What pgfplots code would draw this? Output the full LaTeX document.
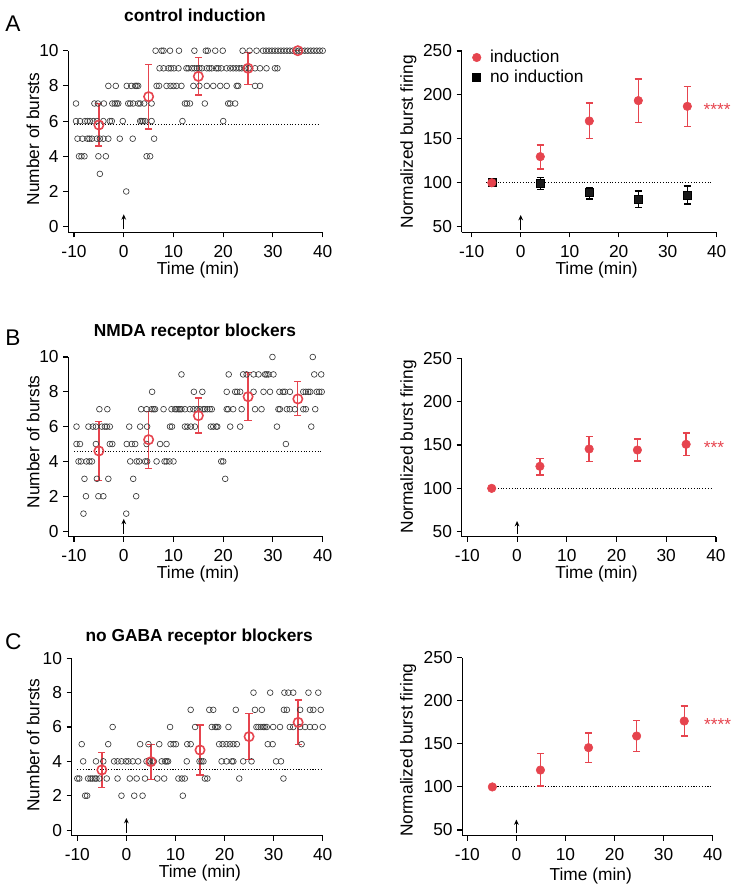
\documentclass[border=0pt]{standalone}
\usepackage{fontspec}
\setmainfont{Liberation Sans}
\usepackage{pgfplots}
\pgfplotsset{compat=1.18}
\usetikzlibrary{arrows.meta}
\definecolor{myred}{RGB}{230,68,78}
\definecolor{mygray}{RGB}{60,60,60}
\newcommand{\fs}{\fontsize{13}{15}\selectfont}
\pgfplotsset{
  base/.style={
    scale only axis, anchor=south west, clip=false,
    axis x line*=bottom, axis y line*=left,
    axis line style={line width=0.8pt, black},
    every tick/.style={line width=0.8pt, black},
    tick align=outside, major tick length=3.75pt,
    xmax=40, xtick={-10,0,...,40},
    /pgf/number format/assume math mode=true,
    tick label style={font=\fs},
    xticklabel style={inner sep=0.5pt, yshift=-5pt},
    label style={font=\fs},
    xlabel style={inner sep=0pt},
    xlabel={Time (min)},
    title style={font=\bfseries\fs, anchor=center},
  },
  leftp/.style={base, ymax=10, ytick={0,2,...,10}, ylabel={Number of bursts}},
  rightp/.style={base, ymax=250, ytick={50,100,...,250}, ylabel={Normalized burst firing}},
  gcirc/.style={only marks, mark=o, mark size=2.15pt, mygray, mark options={line width=0.5pt}},
  rcirc/.style={only marks, mark=o, mark size=3.5pt, myred, mark options={line width=1.2pt},
    error bars/.cd, y dir=both, y explicit,
    error bar style={line width=1pt, myred},
    error mark options={line width=1pt, myred, mark size=2.7pt, rotate=90}, /pgfplots/.cd},
  rfill/.style={only marks, mark=*, mark size=3.2pt, myred, mark options={fill=myred, draw=myred},
    error bars/.cd, y dir=both, y explicit,
    error bar style={line width=1pt, myred},
    error mark options={line width=1pt, myred, mark size=2.7pt, rotate=90}, /pgfplots/.cd},
  bsq/.style={only marks, mark=square*, mark size=3pt, black, mark options={fill=black!90},
    error bars/.cd, y dir=both, y explicit,
    error bar style={line width=1pt, black},
    error mark options={line width=1pt, black, mark size=2.7pt, rotate=90}, /pgfplots/.cd},
  dline/.style={black, line width=0.8pt, dash pattern=on 0.8pt off 1.3pt},
}
\begin{document}
\begin{tikzpicture}
\useasboundingbox (0pt,0pt) rectangle (559.5pt,-669pt);
\node[font=\fontsize{17}{19}\selectfont] at (9.75pt,-17.5pt) {A};
\node[font=\fontsize{17}{19}\selectfont] at (9.75pt,-253.5pt) {B};
\node[font=\fontsize{17}{19}\selectfont] at (10pt,-481.1pt) {C};

% ---------------- A left
\begin{axis}[leftp, at={(51.225pt,-174.225pt)}, width=190.8pt, height=136.2pt,
  xmin=-11.15, ymin=-0.32,
  title={control induction}, title style={at={(axis description cs:0.498,1.1525)}},
  xlabel style={at={(axis description cs:0.51,-0.206)}, anchor=center},
  ylabel style={at={(axis description cs:-0.139,0.514)}, anchor=center}]
\addplot[gcirc] coordinates {
(6.4,10)(7.6,10)(8.0,10)(9.3,10)(11.1,10)(14.2,10)(16.5,10)(16.9,10)(18.4,10)(19.9,10)(23.9,10)(25.3,10)(26.7,10)(28.0,10)(28.6,10)(29.2,10)(29.8,10)(30.4,10)(31.0,10)(31.6,10)(32.2,10)(32.8,10)(33.4,10)(34.0,10)(34.6,10)(35.2,10)(35.8,10)(36.4,10)(37.0,10)(37.6,10)(38.2,10)(38.8,10)(39.4,10)(40.0,10)
(7.2,9)(8.0,9)(9.0,9)(9.5,9)(10.1,9)(11.0,9)(12.6,9)(13.0,9)(13.7,9)(14.2,9)(14.7,9)(15.2,9)(15.7,9)(16.7,9)(17.2,9)(17.7,9)(18.6,9)(19.0,9)(19.6,9)(20.7,9)(21.4,9)(22.0,9)(22.6,9)(23.2,9)(23.7,9)(24.4,9)(25.1,9)(26.4,9)(27.4,9)(28.7,9)(30.4,9)(30.9,9)
(-3.1,8)(-1.6,8)(0.6,8)(1.5,8)(2.3,8)(2.6,8)(2.9,8)(6.6,8)(7.1,8)(8.6,8)(9.4,8)(10.0,8)(10.6,8)(11.6,8)(14.0,8)(15.2,8)(16.7,8)(18.0,8)(19.4,8)(20.7,8)(22.7,8)(23.0,8)(26.4,8)(27.4,8)
(-9.6,7)(-5.9,7)(-5.2,7)(-4.0,7)(-2.3,7)(-1.8,7)(-1.4,7)(-1.1,7)(0.9,7)(1.3,7)(1.9,7)(2.9,7)(3.3,7)(4.1,7)(5.6,7)(12.3,7)(12.7,7)(13.3,7)(16.3,7)(21.0,7)(21.4,7)(22.4,7)
(-9.6,6)(-8.8,6)(-7.8,6)(-7.3,6)(-6.8,6)(-6.1,6)(-5.4,6)(-4.1,6)(-2.8,6)(-2.4,6)(-0.2,6)(3.3,6)(3.6,6)(3.9,6)(4.3,6)(5.6,6)(11.8,6)(20.0,6)
(-9.3,5)(-8.3,5)(-7.3,5)(-6.9,5)(-6.4,5)(-5.4,5)(-4.8,5)(-4.1,5)(-3.1,5)(-0.8,5)(1.8,5)(6.1,5)
(-9.0,4)(-8.5,4)(-7.9,4)(-5.1,4)(-3.6,4)(4.6,4)(5.3,4)
(-4.8,3)(0.5,2)
};
\addplot[dline] coordinates {(-10,5.8)(39.5,5.8)};
\addplot[rcirc] coordinates {
(-5,5.78) += (0,1.22) -= (0,1.2)
(5,7.39) += (0,1.83) -= (0,1.84)
(15,8.54) += (0,1.06) -= (0,1.06)
(25,9.0) += (0,0.9) -= (0,0.93)
(35,10) += (0,0) -= (0,0)
};
\draw[-{Stealth[length=4pt,width=3.5pt]}, line width=0.8pt] (axis cs:0,-0.15) -- (axis cs:0,0.7);
\end{axis}

% ---------------- A right
\begin{axis}[rightp, at={(346.275pt,-174.225pt)}, width=191.25pt, height=136pt,
  xmin=-12.04, ymin=43.6,
  xlabel style={at={(axis description cs:0.529,-0.208)}, anchor=center},
  ylabel style={at={(axis description cs:-0.209,0.5)}, anchor=center},
  legend style={draw=none, fill=none, font=\fs, at={(axis description cs:0.025,1.035)}, anchor=north west, row sep=0pt},
  legend image code/.code={\path[draw=none, fill=none] (-3.3pt,0pt) -- (8pt,0pt); \draw[#1] plot coordinates {(0pt,0pt)};},
  legend cell align=left]
\addlegendimage{only marks, mark=*, mark size=3.2pt, myred}
\addlegendentry{induction}
\addlegendimage{only marks, mark=square*, mark size=3pt, black}
\addlegendentry{no induction}
\addplot[forget plot, dline] coordinates {(-7,100)(39,100)};
\addplot[forget plot, bsq] coordinates {
(-5.9,100)
(4,99) += (0,6.8) -= (0,6.5)
(14,88.7) += (0,5.7) -= (0,7.2)
(24,81.5) += (0,9.1) -= (0,9.5)
(34,86) += (0,10.3) -= (0,10.2)
};
\addplot[forget plot, rfill] coordinates {
(-5.9,100)
(4,129.7) += (0,13.3) -= (0,14)
(14,170.3) += (0,20.5) -= (0,20.1)
(24,193.5) += (0,24.5) -= (0,24.7)
(34,187) += (0,22.4) -= (0,22.8)
};
\node[anchor=base west, font=\fs, text=myred, inner sep=0pt] at (axis cs:37.3,176) {****};
\draw[-{Stealth[length=4pt,width=3.5pt]}, line width=0.8pt] (axis cs:0,46.2) -- (axis cs:0,63.3);
\end{axis}

% ---------------- B left
\begin{axis}[leftp, at={(51.225pt,-402.45pt)}, width=190.8pt, height=134.7pt,
  xmin=-11.15, ymin=-0.32,
  title={NMDA receptor blockers}, title style={at={(axis description cs:0.498,1.095)}},
  xlabel style={at={(axis description cs:0.51,-0.208)}, anchor=center},
  ylabel style={at={(axis description cs:-0.138,0.528)}, anchor=center}]
\addplot[gcirc] coordinates {
(29.9,10)(38.0,10)
(11.6,9)(21.1,9)(24.0,9)(24.7,9)(26.1,9)(27.1,9)(28.4,9)(28.7,9)(29.1,9)(30.1,9)(38.3,9)(39.7,9)
(5.7,8)(14.1,8)(15.8,8)(20.7,8)(22.4,8)(22.8,8)(23.4,8)(26.1,8)(28.1,8)(29.4,8)(31.3,8)(32.0,8)(32.4,8)(33.4,8)(36.1,8)(36.6,8)(37.1,8)(37.5,8)(38.8,8)(39.3,8)(39.8,8)
(-4.9,7)(-3.3,7)(3.5,7)(4.6,7)(5.6,7)(6.0,7)(6.3,7)(8.0,7)(9.6,7)(10.3,7)(10.6,7)(11.0,7)(11.3,7)(11.6,7)(12.3,7)(13.3,7)(14.0,7)(14.7,7)(15.3,7)(16.0,7)(16.3,7)(16.8,7)(17.3,7)(17.7,7)(20.7,7)(21.0,7)(22.0,7)(23.7,7)(26.4,7)(27.7,7)(31.1,7)(31.4,7)(32.8,7)(33.4,7)(34.4,7)(36.1,7)(36.6,7)(38.5,7)
(-9.5,6)(-7.1,6)(-6.2,6)(-5.6,6)(-4.4,6)(-3.8,6)(-3.4,6)(-2.8,6)(1.1,6)(3.3,6)(4.7,6)(9.3,6)(9.7,6)(12.3,6)(12.8,6)(13.5,6)(14.3,6)(17.5,6)(18.0,6)(18.6,6)(18.8,6)(21.4,6)(23.4,6)(30.8,6)(37.7,6)
(-9.5,5)(-8.8,5)(-5.6,5)(-2.8,5)(-2.3,5)(0.6,5)(1.6,5)(2.3,5)(4.6,5)(7.3,5)(8.6,5)(32.6,5)
(-9.1,4)(-8.6,4)(-7.5,4)(-6.9,4)(-6.4,4)(1.3,4)(2.6,4)(3.1,4)(4.3,4)(4.7,4)(6.6,4)(8.2,4)(8.6,4)(9.2,4)(10.0,4)(19.6,4)(20.0,4)
(-7.9,3)(-5.4,3)(-3.1,3)(1.9,3)(20.4,3)
(-7.6,2)(-5.1,2)(-4.1,2)(2.5,2)
(-8.1,1)(0.5,1)
};
\addplot[dline] coordinates {(-10,4.56)(39.7,4.56)};
\addplot[rcirc] coordinates {
(-5,4.6) += (0,1.68) -= (0,1.71)
(5,5.25) += (0,1.63) -= (0,1.65)
(15,6.63) += (0,1.01) -= (0,1.0)
(25,7.72) += (0,1.4) -= (0,1.38)
(35,7.59) += (0,0.99) -= (0,0.94)
};
\draw[-{Stealth[length=4pt,width=3.5pt]}, line width=0.8pt] (axis cs:0,-0.15) -- (axis cs:0,0.7);
\end{axis}

% ---------------- B right
\begin{axis}[rightp, at={(346.275pt,-402.525pt)}, width=190.7pt, height=133.8pt,
  xmin=-11.13, ymin=44.2,
  xlabel style={at={(axis description cs:0.53,-0.209)}, anchor=center},
  ylabel style={at={(axis description cs:-0.21,0.504)}, anchor=center}]
\addplot[dline] coordinates {(-5,100)(39,100)};
\addplot[rfill] coordinates {
(-5.1,100)
(4.6,125.4) += (0,8.8) -= (0,10)
(14.5,145.4) += (0,14.6) -= (0,14.2)
(24.2,144.2) += (0,12.8) -= (0,12.7)
(34,150.8) += (0,13) -= (0,13.1)
};
\node[anchor=base west, font=\fs, text=myred, inner sep=0pt] at (axis cs:37.5,140.5) {***};
\draw[-{Stealth[length=4pt,width=3.5pt]}, line width=0.8pt] (axis cs:0,47) -- (axis cs:0,62.3);
\end{axis}

% ---------------- C left
\begin{axis}[leftp, at={(53.775pt,-626.775pt)}, width=188.25pt, height=133.05pt,
  xmin=-11.14, ymin=-0.33,
  title={no GABA receptor blockers}, title style={at={(axis description cs:0.508,1.075)}},
  xlabel style={at={(axis description cs:0.511,-0.212)}, anchor=center},
  ylabel style={at={(axis description cs:-0.153,0.511)}, anchor=center}]
\addplot[gcirc] coordinates {
(25.9,8)(29.3,8)(32.2,8)(33.0,8)(34.0,8)(37.1,8)(39.1,8)
(13.1,7)(16.9,7)(17.7,7)(22.3,7)(26.2,7)(27.6,7)(32.1,7)(32.7,7)(35.4,7)(37.4,7)(38.1,7)(39.6,7)
(-2.8,6)(8.9,6)(14.0,6)(17.4,6)(18.1,6)(18.4,6)(18.7,6)(20.8,6)(26.5,6)(26.9,6)(27.4,6)(27.9,6)(28.2,6)(28.6,6)(29.9,6)(31.3,6)(33.3,6)(34.0,6)(35.4,6)(36.4,6)(37.4,6)(38.4,6)(40.0,6)
(-9.1,5)(-3.7,5)(2.8,5)(4.5,5)(6.7,5)(9.0,5)(9.6,5)(10.1,5)(12.4,5)(13.1,5)(18.9,5)(19.6,5)(20.4,5)(21.1,5)(21.8,5)(22.5,5)(28.8,5)(29.8,5)(35.7,5)
(-8.8,4)(-6.2,4)(-4.7,4)(-2.5,4)(-1.8,4)(-1.0,4)(-0.1,4)(0.4,4)(1.3,4)(2.4,4)(4.1,4)(4.8,4)(5.4,4)(5.6,4)(7.2,4)(7.9,4)(8.2,4)(8.5,4)(12.3,4)(14.9,4)(15.3,4)(15.7,4)(19.4,4)(20.4,4)(21.5,4)(21.8,4)(23.8,4)(25.5,4)(30.5,4)(31.5,4)
(-10.0,3)(-9.6,3)(-7.8,3)(-7.3,3)(-6.9,3)(-6.4,3)(-6.1,3)(-5.5,3)(-4.0,3)(-1.8,3)(0.7,3)(2.1,3)(3.8,3)(6.3,3)(7.7,3)(10.6,3)(11.3,3)(11.9,3)(16.0,3)(16.5,3)(23.0,3)(32.0,3)
(-8.4,2)(-8.0,2)(-1.0,2)(1.6,2)(3.3,2)(11.5,2)
};
\addplot[dline] coordinates {(-10,3.5)(40,3.5)};
\addplot[rcirc] coordinates {
(-5,3.5) += (0,1.0) -= (0,1.01)
(5,3.98) += (0,1.02) -= (0,1.03)
(15,4.66) += (0,1.46) -= (0,1.46)
(25,5.44) += (0,1.36) -= (0,1.32)
(35,6.27) += (0,1.3) -= (0,1.28)
};
\draw[-{Stealth[length=4pt,width=3.5pt]}, line width=0.8pt] (axis cs:0,-0.15) -- (axis cs:0,0.7);
\end{axis}

% ---------------- C right
\begin{axis}[rightp, at={(346.725pt,-626.775pt)}, width=187.8pt, height=133.5pt,
  xmin=-11.02, ymin=43.4,
  xlabel style={at={(axis description cs:0.513,-0.226)}, anchor=center},
  ylabel style={at={(axis description cs:-0.216,0.48)}, anchor=center}]
\addplot[dline] coordinates {(-5,100)(40,100)};
\addplot[rfill] coordinates {
(-4.9,100)
(4.9,119.6) += (0,18.9) -= (0,18.6)
(14.7,145.6) += (0,17) -= (0,17.5)
(24.5,159.1) += (0,17.8) -= (0,18.1)
(34.2,176.5) += (0,17.4) -= (0,17.4)
};
\node[anchor=base west, font=\fs, text=myred, inner sep=0pt] at (axis cs:38.2,166) {****};
\draw[-{Stealth[length=4pt,width=3.5pt]}, line width=0.8pt] (axis cs:0,46.2) -- (axis cs:0,62.2);
\end{axis}
\end{tikzpicture}
\end{document}
